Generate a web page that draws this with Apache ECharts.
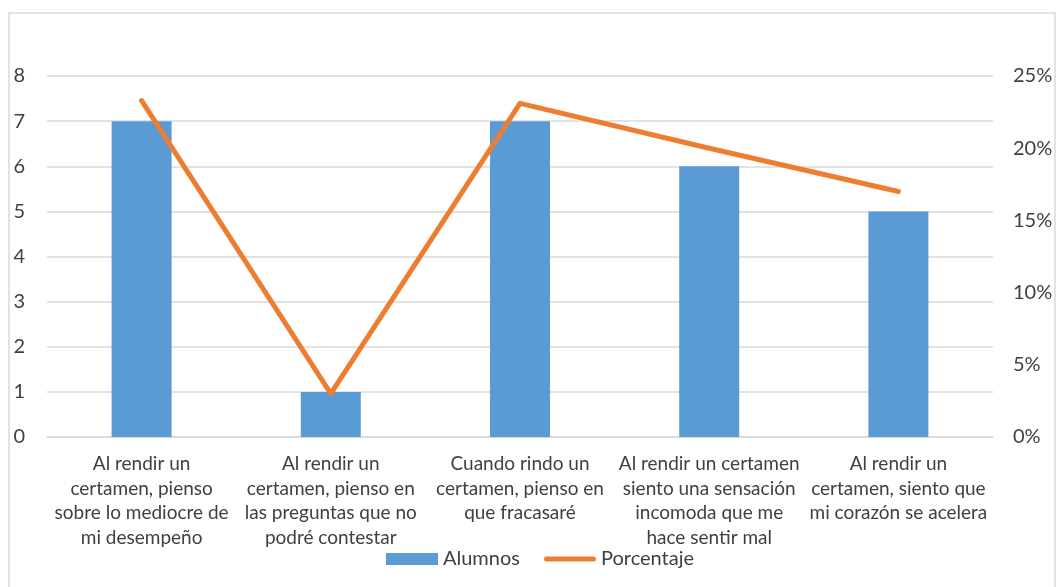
<!DOCTYPE html>
<html>
<head>
<meta charset="utf-8">
<script src="https://cdn.jsdelivr.net/npm/echarts@6/dist/echarts.min.js"></script>
<style>
  html, body { margin: 0; padding: 0; background: #fff; }
  #chart { width: 1059px; height: 587px; }
</style>
</head>
<body>
<div id="chart"></div>
<script>
const categories = [
  'Al rendir un\ncertamen, pienso\nsobre lo mediocre de\nmi desempeño',
  'Al rendir un\ncertamen, pienso en\nlas preguntas que no\npodré contestar',
  'Cuando rindo un\ncertamen, pienso en\nque fracasaré',
  'Al rendir un certamen\nsiento una sensación\nincomoda que me\nhace sentir mal',
  'Al rendir un\ncertamen, siento que\nmi corazón se acelera'
]
const alumnos = [7, 1, 7, 6, 5]
const porcentaje = [0.233, 0.030, 0.231, 0.200, 0.170]
const leftTicks = { min: 0, max: 8, interval: 1 }
const rightTicks = { min: 0, max: 0.25, interval: 0.05 }

const font = 'Lato, "Open Sans", sans-serif'
const textColor = '#404040'
const gridColor = '#d9d9d9'

// thick line with round ends, centred in a 52x12 legend box
const lineIcon = 'path://M0,0 M52,12 M2.5,3.5 L49.5,3.5 A2.5,2.5 0 0 1 49.5,8.5 L2.5,8.5 A2.5,2.5 0 0 1 2.5,3.5 Z'

const chart = echarts.init(document.getElementById('chart'))

chart.setOption({
  animation: false,
  textStyle: { fontFamily: font },
  graphic: [{
    type: 'rect',
    shape: { x: 9, y: 13, width: 1046, height: 600 },
    style: { fill: 'none', stroke: gridColor, lineWidth: 1.5 },
    silent: true
  }],
  grid: { left: 47, right: 66, top: 76, bottom: 150 },
  legend: {
    bottom: 13,
    left: 381,
    itemWidth: 52,
    itemHeight: 12,
    itemGap: 24,
    textStyle: { color: textColor, fontSize: 20, fontFamily: font },
    data: [
      { name: 'Alumnos', icon: 'rect' },
      { name: 'Porcentaje', icon: lineIcon }
    ]
  },
  xAxis: {
    type: 'category',
    data: categories,
    axisLine: { show: true, lineStyle: { color: gridColor, width: 1.5 } },
    axisTick: { show: false },
    axisLabel: {
      interval: 0,
      margin: 15,
      color: textColor,
      fontSize: 19,
      lineHeight: 24.5,
      fontFamily: font
    }
  },
  yAxis: [
    {
      type: 'value',
      min: leftTicks.min,
      max: leftTicks.max,
      interval: leftTicks.interval,
      axisLine: { show: false },
      axisTick: { show: false },
      splitLine: { lineStyle: { color: gridColor, width: 1.5 } },
      axisLabel: { color: textColor, fontSize: 20, margin: 22, fontFamily: font }
    },
    {
      type: 'value',
      min: rightTicks.min,
      max: rightTicks.max,
      interval: rightTicks.interval,
      axisLine: { show: false },
      axisTick: { show: false },
      splitLine: { show: false },
      axisLabel: {
        color: textColor,
        fontSize: 20,
        margin: 20,
        fontFamily: font,
        formatter: v => Math.round(v * 100) + '%'
      }
    }
  ],
  series: [
    {
      name: 'Alumnos',
      type: 'bar',
      data: alumnos,
      barWidth: 60,
      itemStyle: { color: '#5b9bd5' }
    },
    {
      name: 'Porcentaje',
      type: 'line',
      yAxisIndex: 1,
      data: porcentaje,
      symbol: 'none',
      lineStyle: { color: '#ed7d31', width: 5, cap: 'round', join: 'round' },
      itemStyle: { color: '#ed7d31' }
    }
  ]
})
</script>
</body>
</html>
